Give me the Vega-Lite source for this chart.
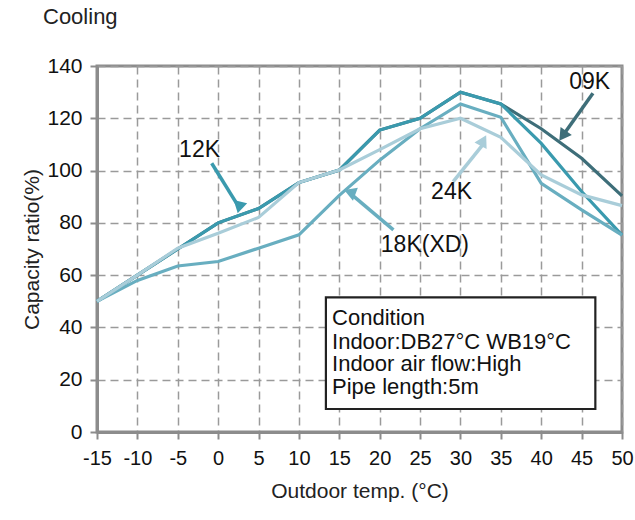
{
  "$schema": "https://vega.github.io/schema/vega-lite/v6.json",
  "autosize": {"type": "none"},
  "padding": {"left": 97, "top": 66, "right": 13, "bottom": 88},
  "width": 525,
  "height": 366,
  "background": "white",
  "title": {"text": "Cooling", "anchor": "start", "frame": "group", "dx": -54, "offset": 26, "font": "Liberation Sans", "fontSize": 22, "fontWeight": "normal", "color": "#222"},
  "datasets": {
    "curves": [
      {"series": "09K", "t": -15, "cap": 50}, {"series": "09K", "t": -10, "cap": 60}, {"series": "09K", "t": -5, "cap": 70}, {"series": "09K", "t": 0, "cap": 80}, {"series": "09K", "t": 5, "cap": 85.5}, {"series": "09K", "t": 10, "cap": 95.4}, {"series": "09K", "t": 15, "cap": 100.2}, {"series": "09K", "t": 20, "cap": 115.5}, {"series": "09K", "t": 25, "cap": 120}, {"series": "09K", "t": 30, "cap": 130}, {"series": "09K", "t": 35, "cap": 125.5}, {"series": "09K", "t": 40, "cap": 116}, {"series": "09K", "t": 45, "cap": 104.7}, {"series": "09K", "t": 50, "cap": 90.3},
      {"series": "12K", "t": -15, "cap": 50}, {"series": "12K", "t": -10, "cap": 60}, {"series": "12K", "t": -5, "cap": 70}, {"series": "12K", "t": 0, "cap": 80}, {"series": "12K", "t": 5, "cap": 85.5}, {"series": "12K", "t": 10, "cap": 95.4}, {"series": "12K", "t": 15, "cap": 100.2}, {"series": "12K", "t": 20, "cap": 115.5}, {"series": "12K", "t": 25, "cap": 120}, {"series": "12K", "t": 30, "cap": 130}, {"series": "12K", "t": 35, "cap": 125.5}, {"series": "12K", "t": 40, "cap": 110.4}, {"series": "12K", "t": 45, "cap": 92}, {"series": "12K", "t": 50, "cap": 75.3},
      {"series": "18K(XD)", "t": -15, "cap": 50}, {"series": "18K(XD)", "t": -10, "cap": 58}, {"series": "18K(XD)", "t": -5, "cap": 63.5}, {"series": "18K(XD)", "t": 0, "cap": 65.2}, {"series": "18K(XD)", "t": 5, "cap": 70.3}, {"series": "18K(XD)", "t": 10, "cap": 75.4}, {"series": "18K(XD)", "t": 15, "cap": 90.5}, {"series": "18K(XD)", "t": 20, "cap": 104}, {"series": "18K(XD)", "t": 25, "cap": 116}, {"series": "18K(XD)", "t": 30, "cap": 125.5}, {"series": "18K(XD)", "t": 35, "cap": 120.4}, {"series": "18K(XD)", "t": 40, "cap": 95.1}, {"series": "18K(XD)", "t": 45, "cap": 85}, {"series": "18K(XD)", "t": 50, "cap": 75.3},
      {"series": "24K", "t": -15, "cap": 50}, {"series": "24K", "t": -10, "cap": 60}, {"series": "24K", "t": -5, "cap": 70.3}, {"series": "24K", "t": 0, "cap": 76}, {"series": "24K", "t": 5, "cap": 82.1}, {"series": "24K", "t": 10, "cap": 95.4}, {"series": "24K", "t": 15, "cap": 100.2}, {"series": "24K", "t": 20, "cap": 108}, {"series": "24K", "t": 25, "cap": 116}, {"series": "24K", "t": 30, "cap": 120}, {"series": "24K", "t": 35, "cap": 112.7}, {"series": "24K", "t": 40, "cap": 98.3}, {"series": "24K", "t": 45, "cap": 90.7}, {"series": "24K", "t": 50, "cap": 86.6}
    ],
    "arrows": [
      {"series": "12K", "label": "12K", "lx": -2.3, "ly": 108, "x": -0.8, "y": 102.8, "x2": 2.59, "y2": 85.9},
      {"series": "09K", "label": "09K", "lx": 46.0, "ly": 134, "x": 46.4, "y": 129.6, "x2": 42.66, "y2": 113.3},
      {"series": "24K", "label": "24K", "lx": 28.9, "ly": 91.9, "x": 29.1, "y": 95.8, "x2": 32.85, "y2": 110.2},
      {"series": "18K(XD)", "label": "18K(XD)", "lx": 25.6, "ly": 71.5, "x": 21.7, "y": 77.3, "x2": 16.57, "y2": 90.7}
    ],
    "box": [{"x": 13.34, "x2": 46.7, "y": 51.5, "y2": 8.8}],
    "boxtext": [
      {"text": "Condition", "x": 14.1, "y": 43.5},
      {"text": "Indoor:DB27°C WB19°C", "x": 14.1, "y": 34.6},
      {"text": "Indoor air flow:High", "x": 14.1, "y": 26},
      {"text": "Pipe length:5m", "x": 14.1, "y": 17.3}
    ]
  },
  "layer": [
    {
      "data": {"name": "curves"},
      "mark": {"type": "line", "strokeWidth": 3.2},
      "encoding": {
        "x": {"field": "t", "type": "quantitative", "scale": {"domain": [-15, 50], "nice": false, "zero": false},
              "axis": {"values": [-15, -10, -5, 0, 5, 10, 15, 20, 25, 30, 35, 40, 45, 50], "labelExpr": "'' + datum.value", "labelOverlap": false, "labelBound": false, "labelFlush": false, "title": "Outdoor temp. (°C)", "labelPadding": 9, "titlePadding": 12, "labelFontSize": 20}},
        "y": {"field": "cap", "type": "quantitative", "scale": {"domain": [0, 140], "nice": false},
              "axis": {"values": [0, 20, 40, 60, 80, 100, 120, 140], "labelOverlap": false, "title": "Capacity ratio(%)", "labelPadding": 8, "titlePadding": 4}},
        "color": {"field": "series", "type": "nominal", "legend": null,
                  "scale": {"domain": ["09K", "12K", "18K(XD)", "24K"], "range": ["#3e6e79", "#3a9aae", "#68aec0", "#a9cdd9"]}}
      }
    },
    {
      "data": {"name": "arrows"},
      "mark": {"type": "rule", "strokeWidth": 3.5},
      "encoding": {
        "x": {"field": "x", "type": "quantitative"},
        "y": {"field": "y", "type": "quantitative"},
        "x2": {"field": "x2"},
        "y2": {"field": "y2"},
        "color": {"field": "series", "type": "nominal", "legend": null}
      }
    },
    {
      "data": {"name": "arrows"},
      "mark": {"type": "point", "shape": "triangle-up", "filled": true, "opacity": 1, "size": 190},
      "encoding": {
        "x": {"field": "x2", "type": "quantitative"},
        "y": {"field": "y2", "type": "quantitative"},
        "color": {"field": "series", "type": "nominal", "legend": null},
        "angle": {"field": "series", "type": "nominal", "legend": null,
                  "scale": {"domain": ["09K", "12K", "18K(XD)", "24K"], "range": [215.5, 148.2, 310.4, 38.7]}}
      }
    },
    {
      "data": {"name": "arrows"},
      "mark": {"type": "text", "font": "Liberation Sans", "fontSize": 23, "color": "#111", "align": "center", "baseline": "middle"},
      "encoding": {
        "x": {"field": "lx", "type": "quantitative"},
        "y": {"field": "ly", "type": "quantitative"},
        "text": {"field": "label"}
      }
    },
    {
      "data": {"name": "box"},
      "mark": {"type": "rect", "fill": "white", "stroke": "#222", "strokeWidth": 2.2},
      "encoding": {
        "x": {"field": "x", "type": "quantitative"},
        "x2": {"field": "x2"},
        "y": {"field": "y", "type": "quantitative"},
        "y2": {"field": "y2"}
      }
    },
    {
      "data": {"name": "boxtext"},
      "mark": {"type": "text", "font": "Liberation Sans", "fontSize": 22, "color": "#111", "align": "left", "baseline": "middle"},
      "encoding": {
        "x": {"field": "x", "type": "quantitative"},
        "y": {"field": "y", "type": "quantitative"},
        "text": {"field": "text"}
      }
    }
  ],
  "config": {
    "view": {"stroke": "#8c8c8c", "strokeWidth": 3},
    "axis": {
      "domainColor": "#8c8c8c", "domainWidth": 3,
      "tickColor": "#8c8c8c", "tickWidth": 2, "tickSize": 7,
      "gridColor": "#9a9a9a", "gridDash": [8, 5], "gridWidth": 1.5,
      "labelFont": "Liberation Sans", "labelFontSize": 21, "labelColor": "#111",
      "titleFont": "Liberation Sans", "titleFontSize": 21, "titleFontWeight": "normal", "titleColor": "#222"
    }
  }
}
